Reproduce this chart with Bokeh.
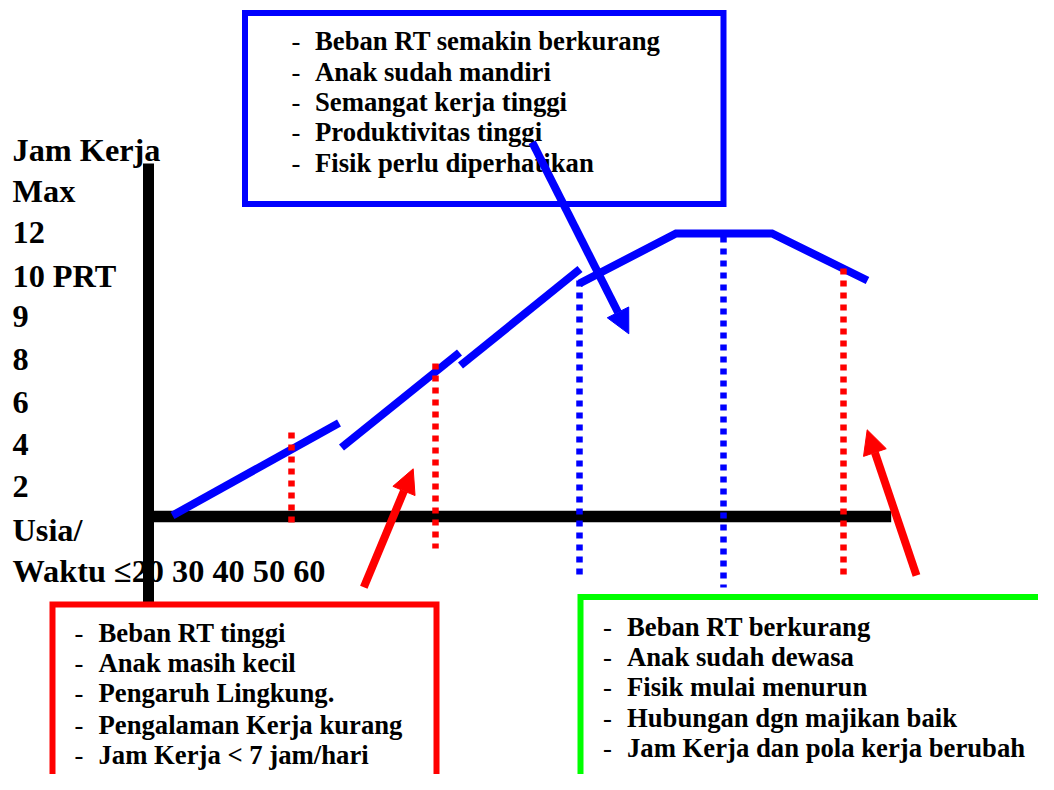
from bokeh.plotting import figure
from bokeh.models import Range1d, Arrow, NormalHead, ColumnDataSource
from bokeh.core.properties import value
from bokeh.embed import file_html
from bokeh.resources import INLINE

# ---------------- data (diagram units: x to the right of the y-axis, y above the x-axis) ----------------
# Left-hand axis labels
axis_labels = ["Jam Kerja", "Max", "12", "10 PRT", "9", "8", "6", "4", "2", "Usia/", "Waktu \u226420 30 40 50 60"]
axis_label_y = [356, 314.3, 272.7, 229.3, 188.7, 146, 103.3, 61, 19.3, -24, -65.7]

# Working-hour curve: three separate rising strokes ...
rise_x0 = [24, 193, 312]
rise_y0 = [1, 69, 151]
rise_x1 = [190.5, 311, 431.5]
rise_y1 = [93.5, 164, 247.5]
# ... then a connected plateau / decline
peak_x = [431, 527.5, 623.5, 719]
peak_y = [233, 283, 283, 236]

# Vertical dotted phase markers
marker_x = [143, 287, 431, 575, 695]
marker_top = [84, 153, 236, 280, 248]
marker_bottom = [-6, -32, -59, -71, -59]
marker_color = ["#ff0000", "#ff0000", "#0000ff", "#0000ff", "#ff0000"]

# Arrows pointing from the text boxes to the curve
arrow_x0 = [383.7, 215.3, 768]
arrow_y0 = [374.3, -70.7, -59]
arrow_x1 = [480.3, 264.7, 718.7]
arrow_y1 = [182.7, 47.7, 86.7]
arrow_color = ["#0000ff", "#ff0000", "#ff0000"]

# Text boxes
box_left = [96.5, -96, 432]
box_right = [575, 288, 922]
box_top = [503.5, -88, -80.5]
box_bottom = [312.5, -294, -271.5]
box_color = ["#0000ff", "#ff0000", "#00ff00"]

blue_items = ["Beban RT semakin berkurang", "Anak sudah mandiri", "Semangat kerja tinggi",
              "Produktivitas tinggi", "Fisik perlu diperhatikan"]
blue_item_y = [466.5, 436, 405.7, 375.3, 345]
red_items = ["Beban RT tinggi", "Anak masih kecil", "Pengaruh Lingkung.",
             "Pengalaman Kerja kurang", "Jam Kerja < 7 jam/hari"]
red_item_y = [-125.7, -155.7, -185.7, -217, -247]
green_items = ["Beban RT berkurang", "Anak sudah dewasa", "Fisik mulai menurun",
               "Hubungan dgn majikan baik", "Jam Kerja dan pola kerja berubah"]
green_item_y = [-119, -149, -179, -210.7, -240.7]

# Axis extents
y_axis_top, y_axis_bottom = 353, -87
x_axis_right = 742.7

# ---------------- figure ----------------
p = figure(width=1038, height=774, x_range=Range1d(-148, 890), y_range=Range1d(-258, 516),
           output_backend="svg", toolbar_location=None,
           x_axis_location=None, y_axis_location=None, min_border=0)
p.outline_line_color = None
p.xgrid.visible = False
p.ygrid.visible = False
p.background_fill_color = "white"
p.border_fill_color = "white"

FONT = value("Liberation Serif")
LABEL_SIZE = "32.3px"
ITEM_SIZE = "26.7px"

# axis labels (drawn first so the axis bar sits on top)
p.text(x=[-136] * len(axis_labels), y=axis_label_y, text=axis_labels, text_font=FONT,
       text_font_style="bold", text_font_size=LABEL_SIZE, text_baseline="alphabetic",
       text_color="black", y_offset=-11)

# box texts
def bullet_list(xdash, xtext, ys, items):
    p.text(x=[xdash] * len(items), y=ys, text=["-"] * len(items), text_font=FONT,
           text_font_size=ITEM_SIZE, text_baseline="alphabetic", text_color="black", y_offset=-8.8)
    p.text(x=[xtext] * len(items), y=ys, text=items, text_font=FONT, text_font_style="bold",
           text_font_size=ITEM_SIZE, text_baseline="alphabetic", text_color="black", y_offset=-8.8)

bullet_list(143, 166.5, blue_item_y, blue_items)
bullet_list(-74, -50, red_item_y, red_items)
bullet_list(454.5, 478.5, green_item_y, green_items)

# black axes
p.segment(x0=[0], y0=[y_axis_top], x1=[0], y1=[y_axis_bottom], line_color="black", line_width=11, line_cap="butt")
p.segment(x0=[0], y0=[0], x1=[x_axis_right], y1=[0], line_color="black", line_width=11.5, line_cap="butt")

# curve
p.segment(x0=rise_x0, y0=rise_y0, x1=rise_x1, y1=rise_y1, line_color="#0000ff", line_width=8, line_cap="butt")
p.line(peak_x, peak_y, line_color="#0000ff", line_width=8, line_cap="butt", line_join="miter")

# dotted markers
msrc = ColumnDataSource(dict(x=marker_x, top=marker_top, bottom=marker_bottom, color=marker_color))
p.segment(x0="x", y0="top", x1="x", y1="bottom", source=msrc, line_color="color",
          line_width=6.5, line_dash="6 6", line_cap="butt")

# arrows
for xs, ys, xe, ye, c in zip(arrow_x0, arrow_y0, arrow_x1, arrow_y1, arrow_color):
    p.add_layout(Arrow(end=NormalHead(size=24, fill_color=c, line_color=c, line_width=1),
                       x_start=xs, y_start=ys, x_end=xe, y_end=ye,
                       line_color=c, line_width=8))

# boxes
bsrc = ColumnDataSource(dict(left=box_left, right=box_right, top=box_top, bottom=box_bottom, color=box_color))
p.quad(left="left", right="right", top="top", bottom="bottom", source=bsrc,
       fill_color=None, line_color="color", line_width=6, line_join="miter")

open("out.html", "w").write(file_html(p, INLINE))
